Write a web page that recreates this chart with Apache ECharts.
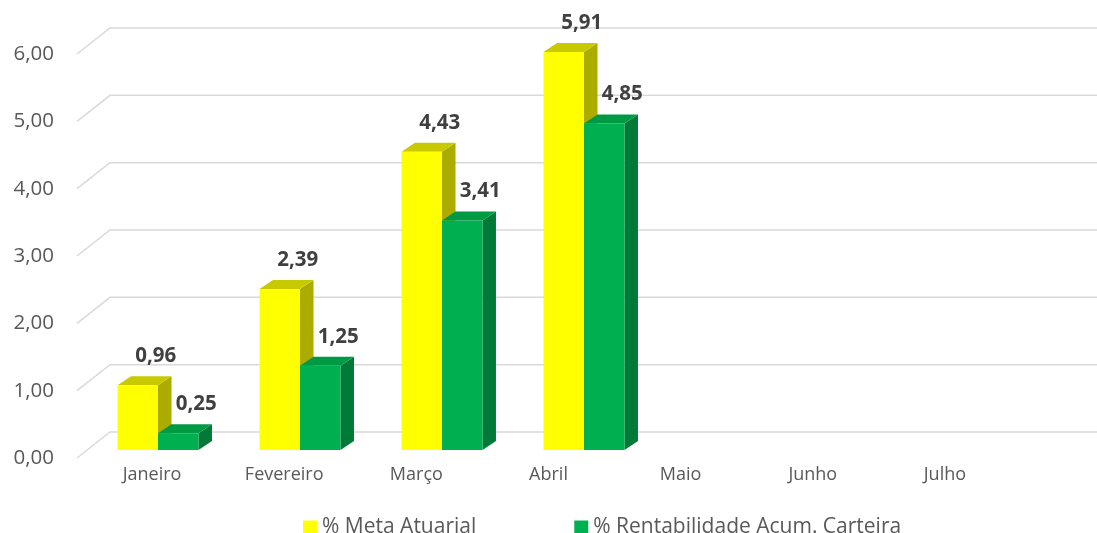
<!DOCTYPE html>
<html>
<head>
<meta charset="utf-8">
<script src="https://cdn.jsdelivr.net/npm/echarts@6/dist/echarts.min.js"></script>
<style>html,body{margin:0;padding:0;background:#fff}#main{width:1097px;height:533px}</style>
</head>
<body>
<div id="main"></div>
<script>
var meses = ['Janeiro', 'Fevereiro', 'Março', 'Abril', 'Maio', 'Junho', 'Julho'];
var metaAtuarial = [0.96, 2.39, 4.43, 5.91];
var rentabilidade = [0.25, 1.25, 3.41, 4.85];
var yTicks = [0, 1, 2, 3, 4, 5, 6];
var nomes = ['% Meta Atuarial', '% Rentabilidade Acum. Carteira'];

var cores = [
    {frente: '#FFFF00', topo: '#C9C900', lado: '#ABAB00'},
    {frente: '#00B050', topo: '#009A44', lado: '#007A36'}
];
var fonte = '"Open Sans", sans-serif';

function virgula(v) {
    return Number(v).toFixed(2).replace('.', ',');
}

var myChart = echarts.init(document.getElementById('main'));

// barra "3D": frente + topo + lado, no plano das barras (8px acima do plano frontal)
function barra3d(k) {
    var c = cores[k];
    return function (params, api) {
        var i = api.value(0), v = api.value(1);
        var topo = api.coord([i, v]);
        var base = api.coord([i, 0]);
        var w = api.size([1, 0])[0] * 0.285;
        var x0 = k === 0 ? topo[0] - w : topo[0];
        var x1 = x0 + w;
        var yt = topo[1] - 8, yb = base[1] - 8;
        var dx = 13.5, dy = -9;
        return {
            type: 'group',
            children: [
                {type: 'polygon', shape: {points: [[x1, yb], [x1, yt], [x1 + dx, yt + dy], [x1 + dx, yb + dy]]}, style: {fill: c.lado}},
                {type: 'polygon', shape: {points: [[x0, yt], [x1, yt], [x1 + dx, yt + dy], [x0 + dx, yt + dy]]}, style: {fill: c.topo}},
                {type: 'rect', shape: {x: x0, y: yt, width: w, height: yb - yt}, style: {fill: c.frente}},
                {type: 'text', x: (x0 + x1) / 2 + 18, y: yt - 29, z2: 10, style: {
                    text: virgula(v), fill: '#404040', font: 'bold 20.5px ' + fonte,
                    textAlign: 'center', textVerticalAlign: 'middle'
                }}
            ]
        };
    };
}

// linhas de grade com a "parede" em perspectiva
function grade(params, api) {
    var cs = params.coordSys;
    var y = api.coord([0, api.value(1)])[1];
    var xf = cs.x - 10, xb = cs.x + 23;
    return {
        type: 'polyline',
        shape: {points: [[xf, y], [xb, y - 26], [cs.x + cs.width + 16, y - 26]]},
        style: {stroke: '#D9D9D9', lineWidth: 1.5, fill: null}
    };
}

option = {
    animation: false,
    grid: [
        {left: 87, right: 16, top: 54, bottom: 75},
        {left: 86, width: 925, top: 54, bottom: 75}
    ],
    legend: {
        left: 298,
        top: 512,
        icon: 'rect',
        itemWidth: 14,
        itemHeight: 14,
        itemGap: 98,
        textStyle: {color: '#595959', fontSize: 21, fontFamily: fonte},
        data: nomes
    },
    xAxis: [
        {
            type: 'category', gridIndex: 0, data: meses,
            axisLine: {show: false}, axisTick: {show: false}, axisLabel: {show: false}
        },
        {
            type: 'category', gridIndex: 1, data: meses,
            axisLine: {show: false}, axisTick: {show: false},
            axisLabel: {color: '#595959', fontSize: 18, fontFamily: fonte, margin: 8}
        }
    ],
    yAxis: [
        {
            type: 'value', gridIndex: 0, min: 0, max: 6, interval: 1,
            splitLine: {show: false}, axisLine: {show: false}, axisTick: {show: false},
            axisLabel: {color: '#595959', fontSize: 20.5, fontFamily: fonte, margin: 33, formatter: virgula}
        },
        {type: 'value', gridIndex: 1, min: 0, max: 6, show: false}
    ],
    series: [
        {
            type: 'custom', name: 'grade', xAxisIndex: 0, yAxisIndex: 0, silent: true, z: 1,
            renderItem: grade,
            data: yTicks.map(function (v) { return [0, v]; })
        },
        {
            type: 'custom', name: nomes[0], xAxisIndex: 0, yAxisIndex: 0, z: 2,
            itemStyle: {color: cores[0].frente},
            renderItem: barra3d(0),
            data: metaAtuarial.map(function (v, i) { return [i, v]; })
        },
        {
            type: 'custom', name: nomes[1], xAxisIndex: 0, yAxisIndex: 0, z: 3,
            itemStyle: {color: cores[1].frente},
            renderItem: barra3d(1),
            data: rentabilidade.map(function (v, i) { return [i, v]; })
        }
    ]
};

myChart.setOption(option);
</script>
</body>
</html>
